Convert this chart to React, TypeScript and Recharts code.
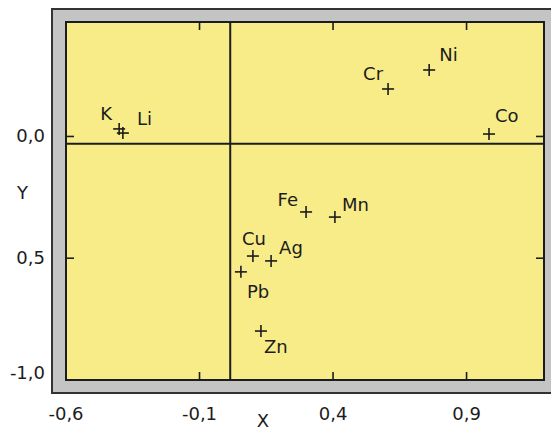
import { ReferenceArea, ReferenceLine, Scatter, ScatterChart, XAxis, YAxis } from "recharts";

// element loadings
const ELEMENTS = ["K", "Li", "Cr", "Ni", "Co", "Fe", "Mn", "Cu", "Ag", "Pb", "Zn"];
const X_VALUES = [-0.401, -0.387, 0.606, 0.76, 0.984, 0.299, 0.407, 0.1, 0.168, 0.055, 0.13];
const Y_VALUES = [0.031, 0.014, 0.195, 0.273, 0.01, -0.31, -0.331, -0.491, -0.511, -0.556, -0.799];

const X_TICKS = [-0.6, -0.1, 0.4, 0.9];
const X_TICK_LABELS = ["-0,6", "-0,1", "0,4", "0,9"];
const Y_TICKS = [-1, -0.5, 0];
const Y_TICK_LABELS = ["-1,0", "0,5", "0,0"];

const X_DOMAIN: [number, number] = [-0.6, 1.19];
const Y_DOMAIN: [number, number] = [-1, 0.47];
// the cross lines of the plot
const CROSS_X = 0.015;
const CROSS_Y = -0.03;

const INK = "#1c1c1c";
const FONT = "'DejaVu Sans', sans-serif";
const FONT_SIZE = 18;

const CHART_W = 551;
const CHART_H = 430;
const MARGIN = { top: 22, right: 7, bottom: 0, left: 0 };
const X_AXIS_H = 50;
const Y_AXIS_W = 66;
const TICK_LEN = 8;

// where each label sits relative to its marker: [anchor, dx, dy]
const LABEL_PLACE: Record<string, ["start" | "middle" | "end", number, number]> = {
  K: ["end", -7, -9],
  Li: ["start", 14, -8],
  Cr: ["end", -5, -9],
  Ni: ["start", 10, -9],
  Co: ["start", 6, -12],
  Fe: ["end", -8, -6],
  Mn: ["start", 7, -6],
  Cu: ["middle", 1, -11],
  Ag: ["start", 8, -7],
  Pb: ["start", 6, 26],
  Zn: ["start", 3, 22],
};

const points = ELEMENTS.map((name, i) => ({ name, x: X_VALUES[i], y: Y_VALUES[i] }));

// inward tick marks on all four edges, placed through the same scales
const edgeMarks = [
  ...X_TICKS.flatMap((t) => [
    { x: t, y: Y_DOMAIN[1], dir: "down" },
    { x: t, y: Y_DOMAIN[0], dir: "up" },
  ]),
  ...Y_TICKS.flatMap((t) => [
    { x: X_DOMAIN[0], y: t, dir: "right" },
    { x: X_DOMAIN[1], y: t, dir: "left" },
  ]),
];

const DIRS: Record<string, [number, number]> = {
  down: [0, 1],
  up: [0, -1],
  right: [1, 0],
  left: [-1, 0],
};

function EdgeMark(props: any) {
  const { cx, cy, payload } = props;
  const [ux, uy] = DIRS[payload.dir];
  return (
    <line
      x1={cx}
      y1={cy}
      x2={cx + ux * TICK_LEN}
      y2={cy + uy * TICK_LEN}
      stroke={INK}
      strokeWidth={1.6}
    />
  );
}

function PlusMarker(props: any) {
  const { cx, cy, payload } = props;
  const [anchor, dx, dy] = LABEL_PLACE[payload.name] ?? ["start", 6, -8];
  return (
    <g>
      <line x1={cx - 6} x2={cx + 6} y1={cy} y2={cy} stroke={INK} strokeWidth={1.6} />
      <line x1={cx} x2={cx} y1={cy - 6} y2={cy + 6} stroke={INK} strokeWidth={1.6} />
      <text
        x={cx + dx}
        y={cy + dy}
        textAnchor={anchor}
        fontFamily={FONT}
        fontSize={FONT_SIZE}
        fill={INK}
      >
        {payload.name}
      </text>
    </g>
  );
}

function XTick({ x, y, payload }: any) {
  const i = X_TICKS.indexOf(payload.value);
  return (
    <text x={x} y={y + 40} textAnchor="middle" fontFamily={FONT} fontSize={FONT_SIZE} fill={INK}>
      {X_TICK_LABELS[i]}
    </text>
  );
}

function YTick({ x, y, payload }: any) {
  const i = Y_TICKS.indexOf(payload.value);
  // lowest label is pushed up so it stays beside the frame
  const lift = payload.value === Y_DOMAIN[0] ? -7 : 0;
  return (
    <text x={x - 21} y={y + 6 + lift} textAnchor="end" fontFamily={FONT} fontSize={FONT_SIZE} fill={INK}>
      {Y_TICK_LABELS[i]}
    </text>
  );
}

export default function App() {
  return (
    <div style={{ position: "relative", width: CHART_W, height: CHART_H, overflow: "hidden", background: "#fff" }}>
      <style>{"body{margin:0}"}</style>
      {/* grey frame and yellow plot face behind the svg */}
      <div
        style={{
          position: "absolute",
          left: 51,
          top: 8,
          width: 520,
          height: 382,
          background: "#c4c4c4",
          border: "2px solid #333",
        }}
      />
      <div
        style={{
          position: "absolute",
          left: Y_AXIS_W,
          top: MARGIN.top,
          width: CHART_W - MARGIN.right - Y_AXIS_W,
          height: CHART_H - MARGIN.top - X_AXIS_H,
          background: "#f7ec88",
        }}
      />
      <div style={{ position: "absolute", left: 0, top: 0 }}>
        <ScatterChart width={CHART_W} height={CHART_H} margin={MARGIN}>
          <XAxis
            type="number"
            dataKey="x"
            domain={X_DOMAIN}
            ticks={X_TICKS}
            interval={0}
            height={X_AXIS_H}
            axisLine={false}
            tickLine={false}
            tickSize={0}
            tickMargin={0}
            tick={<XTick />}
            allowDataOverflow
            label={{
              value: "X",
              position: "insideBottom",
              offset: 3,
              dx: -42,
              fill: INK,
              fontFamily: FONT,
              fontSize: FONT_SIZE,
            }}
          />
          <YAxis
            type="number"
            dataKey="y"
            domain={Y_DOMAIN}
            ticks={Y_TICKS}
            interval={0}
            width={Y_AXIS_W}
            axisLine={false}
            tickLine={false}
            tickSize={0}
            tickMargin={0}
            tick={<YTick />}
            allowDataOverflow
            label={{
              value: "Y",
              position: "insideLeft",
              offset: 17,
              dy: -8,
              fill: INK,
              fontFamily: FONT,
              fontSize: FONT_SIZE,
            }}
          />
          <ReferenceArea
            x1={X_DOMAIN[0]}
            x2={X_DOMAIN[1]}
            y1={Y_DOMAIN[0]}
            y2={Y_DOMAIN[1]}
            fill="none"
            stroke={INK}
            strokeWidth={2}
          />
          <ReferenceLine x={CROSS_X} stroke={INK} strokeWidth={2} />
          <ReferenceLine y={CROSS_Y} stroke={INK} strokeWidth={2} />
          <Scatter data={edgeMarks} shape={<EdgeMark />} legendType="none" isAnimationActive={false} />
          <Scatter data={points} shape={<PlusMarker />} isAnimationActive={false} />
        </ScatterChart>
      </div>
    </div>
  );
}
